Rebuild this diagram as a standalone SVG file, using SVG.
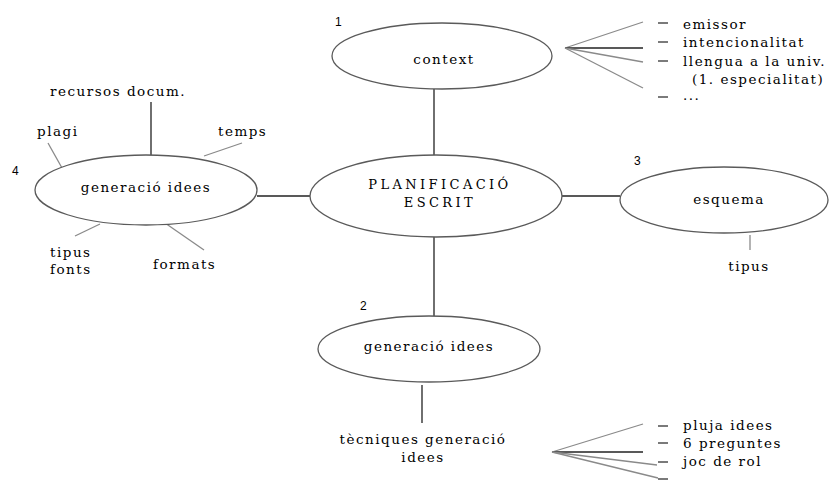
<svg xmlns="http://www.w3.org/2000/svg" width="840" height="482" viewBox="0 0 840 482">
<style>
.bg{fill:#ffffff}
.node{fill:#ffffff;stroke:#5a5a5a;stroke-width:1.3}
.t{font-family:"DejaVu Serif","Liberation Serif",serif;font-size:13.5px;letter-spacing:1.5px;fill:#000000}
.c{text-anchor:middle}
.cap{font-size:13px;letter-spacing:3.4px}
.num{font-family:"Liberation Sans","DejaVu Sans",sans-serif;font-size:12px;fill:#000000}
.ln{stroke:#222;stroke-width:1.3;fill:none}
.lg{stroke:#8a8a8a;stroke-width:1.3;fill:none}
.dash{stroke:#222;stroke-width:1.2}
</style>
<rect class="bg" x="0" y="0" width="840" height="482"/>
<g id="connectors">
<line class="ln" x1="434" y1="89" x2="434" y2="155"/>
<line class="ln" x1="434" y1="237" x2="434" y2="316"/>
<line class="ln" x1="257" y1="196" x2="310" y2="196"/>
<line class="ln" x1="562" y1="196" x2="620" y2="196"/>
<line class="ln" x1="422" y1="385" x2="422" y2="423"/>
<line class="lg" x1="565" y1="48" x2="643" y2="22"/>
<line class="ln" x1="565" y1="48" x2="643" y2="48"/>
<line class="lg" x1="565" y1="48" x2="643" y2="62"/>
<line class="lg" x1="565" y1="48" x2="643" y2="88"/>
<line class="lg" x1="552" y1="452" x2="643" y2="424"/>
<line class="ln" x1="552" y1="452" x2="643" y2="452"/>
<line class="lg" x1="552" y1="452" x2="657" y2="465"/>
<line class="lg" x1="552" y1="452" x2="658" y2="478"/>
<line class="ln" x1="151" y1="102" x2="151" y2="156"/>
<line class="lg" x1="48" y1="143" x2="62" y2="168"/>
<line class="lg" x1="242" y1="143" x2="204" y2="156"/>
<line class="lg" x1="100" y1="224" x2="75" y2="236"/>
<line class="lg" x1="165" y1="223" x2="204" y2="250"/>
<line class="lg" x1="750" y1="235" x2="750" y2="250"/>
</g>
<g id="node-context">
<ellipse class="node" cx="442" cy="56" rx="110" ry="33"/>
<text class="t c" x="444" y="64">context</text>
<text class="num" x="335" y="26">1</text>
</g>
<g id="node-planificacio">
<ellipse class="node" cx="436" cy="196" rx="126" ry="41"/>
<text class="t c cap" x="440" y="189">PLANIFICACIÓ</text>
<text class="t c cap" x="440" y="207">ESCRIT</text>
</g>
<g id="node-generacio-4">
<ellipse class="node" cx="146" cy="190" rx="111" ry="35"/>
<text class="t c" x="146" y="192">generació idees</text>
<text class="num" x="12" y="175">4</text>
</g>
<g id="node-esquema">
<ellipse class="node" cx="724" cy="200" rx="104" ry="33"/>
<text class="t c" x="729" y="204">esquema</text>
<text class="num" x="634" y="165">3</text>
</g>
<g id="node-generacio-2">
<ellipse class="node" cx="429" cy="349" rx="111" ry="33"/>
<text class="t c" x="429" y="351">generació idees</text>
<text class="num" x="360" y="310">2</text>
</g>
<g id="labels-context">
<line class="dash" x1="658" y1="23" x2="668" y2="23"/>
<line class="dash" x1="658" y1="42" x2="668" y2="42"/>
<line class="dash" x1="658" y1="61" x2="668" y2="61"/>
<line class="dash" x1="658" y1="97" x2="668" y2="97"/>
<text class="t" x="683" y="29">emissor</text>
<text class="t" x="683" y="47">intencionalitat</text>
<text class="t" x="683" y="66">llengua a la univ.</text>
<text class="t" x="692" y="84">(1. especialitat)</text>
<text class="t" x="683" y="100">...</text>
</g>
<g id="labels-generacio-4">
<text class="t" x="50" y="96">recursos docum.</text>
<text class="t" x="37" y="136">plagi</text>
<text class="t" x="218" y="136">temps</text>
<text class="t" x="50" y="257">tipus</text>
<text class="t" x="50" y="274">fonts</text>
<text class="t" x="153" y="269">formats</text>
</g>
<g id="labels-esquema">
<text class="t c" x="749" y="271">tipus</text>
</g>
<g id="labels-generacio-2">
<text class="t c" x="423" y="444">tècniques generació</text>
<text class="t c" x="423" y="462">idees</text>
<line class="dash" x1="658" y1="426" x2="668" y2="426"/>
<line class="dash" x1="658" y1="443" x2="668" y2="443"/>
<line class="dash" x1="658" y1="462" x2="668" y2="462"/>
<line class="dash" x1="658" y1="479" x2="668" y2="479"/>
<text class="t" x="683" y="430">pluja idees</text>
<text class="t" x="683" y="448">6 preguntes</text>
<text class="t" x="683" y="466">joc de rol</text>
</g>
</svg>
